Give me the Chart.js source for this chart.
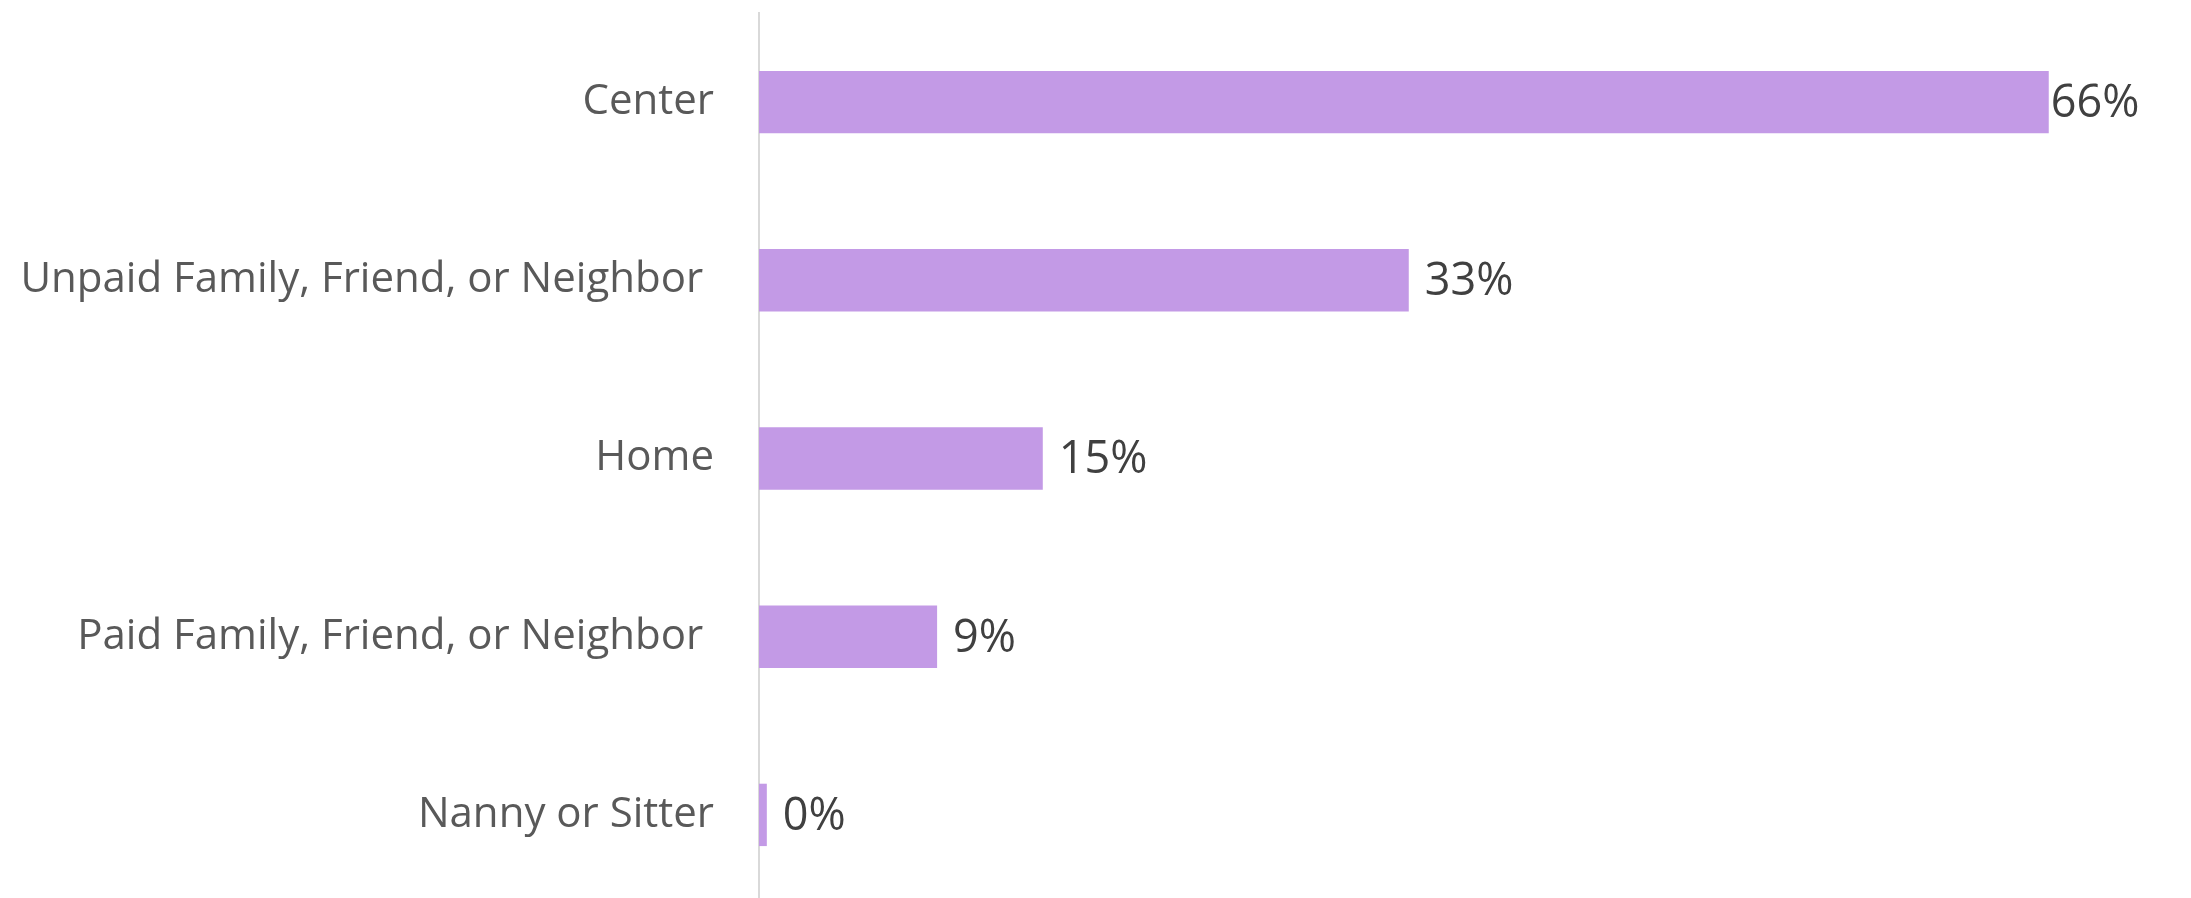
<!DOCTYPE html>
<html>
<head>
<meta charset="utf-8">
<title>Child care arrangements</title>
<script src="https://cdn.jsdelivr.net/npm/chart.js@4.4.1/dist/chart.umd.min.js"></script>
<style>
    html, body {
        margin: 0;
        padding: 0;
        background: #ffffff;
        overflow: hidden;
    }
    canvas {
        display: block;
    }
</style>
</head>
<body>
<canvas id="care-chart" width="2191" height="906"></canvas>
<script>
// Types de garde et part des familles (%)
const careTypes = [
    'Center',
    'Unpaid Family, Friend, or Neighbor ',
    'Home',
    'Paid Family, Friend, or Neighbor ',
    'Nanny or Sitter'
];
const careShares = [65.9, 33.2, 14.5, 9.1, 0.4];

const barColor = '#c39ae6';

// Étiquettes de valeur au bout de chaque barre
const valueLabels = {
    id: 'valueLabels',
    afterDatasetsDraw(chart) {
        const ctx = chart.ctx;
        const area = chart.chartArea;
        const meta = chart.getDatasetMeta(0);
        ctx.save();
        ctx.font = '45px "Open Sans"';
        ctx.fillStyle = '#404040';
        ctx.textAlign = 'left';
        ctx.textBaseline = 'middle';
        meta.data.forEach((bar, i) => {
            const text = Math.round(careShares[i]) + '%';
            const w = ctx.measureText(text).width;
            let x = bar.x + 16;
            if (x + w > area.right) {
                x = bar.x + 2;
            }
            ctx.fillText(text, x, bar.y + 2);
        });
        ctx.restore();
    }
};

const careChart = new Chart(
    document.getElementById('care-chart'),
    {
        type: 'bar',
        data: {
            labels: careTypes,
            datasets: [{
                data: careShares,
                backgroundColor: barColor,
                borderWidth: 0,
                categoryPercentage: 1.0,
                barPercentage: 0.35
            }]
        },
        options: {
            indexAxis: 'y',
            animation: false,
            responsive: false,
            layout: {
                padding: { top: 13, bottom: 2, left: 0, right: 62 }
            },
            plugins: {
                legend: { display: false },
                tooltip: { enabled: false }
            },
            scales: {
                x: {
                    display: false,
                    min: 0,
                    max: 70
                },
                y: {
                    // largeur fixe, sans marge haute/basse due aux libellés
                    afterFit(scale) {
                        scale.width = 759;
                        scale.paddingTop = 0;
                        scale.paddingBottom = 0;
                    },
                    grid: { display: false, drawTicks: false },
                    border: {
                        display: true,
                        color: '#d9d9d9',
                        width: 2
                    },
                    ticks: {
                        autoSkip: false,
                        padding: 45,
                        color: '#595959',
                        font: { family: 'Open Sans', size: 42 }
                    }
                }
            }
        },
        plugins: [valueLabels]
    }
);
</script>
</body>
</html>
